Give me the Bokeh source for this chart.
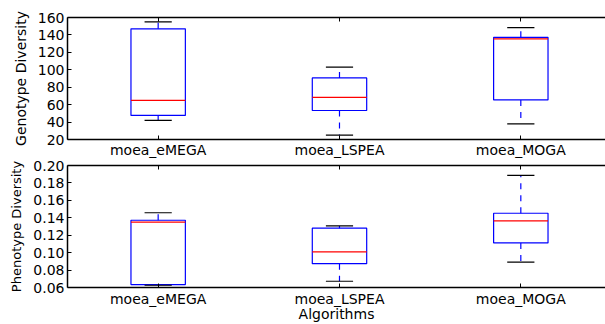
from bokeh.plotting import figure
from bokeh.layouts import column
from bokeh.models import FixedTicker, LinearAxis, PrintfTickFormatter, Range1d, ColumnDataSource
from bokeh.embed import file_html
from bokeh.resources import INLINE

categories = ["moea_eMEGA", "moea_LSPEA", "moea_MOGA"]

geno_low = [42, 25, 38]
geno_q1 = [47.6, 53.3, 65.4]
geno_med = [65, 68.4, 135.4]
geno_q3 = [147, 90.7, 137.3]
geno_high = [155, 103, 148.3]
geno_ticks = [20, 40, 60, 80, 100, 120, 140, 160]

pheno_low = [0.0626, 0.0672, 0.0891]
pheno_q1 = [0.0634, 0.0873, 0.1111]
pheno_med = [0.135, 0.1009, 0.1364]
pheno_q3 = [0.1372, 0.1281, 0.1452]
pheno_high = [0.1458, 0.1307, 0.1887]
pheno_ticks = [0.06, 0.08, 0.10, 0.12, 0.14, 0.16, 0.18, 0.20]

FONT = "DejaVu Sans"
FS = "14px"
BOX_HALF = 0.15
CAP_HALF = 0.075
positions = [i + 1 for i in range(len(categories))]
cat_labels = {x: c for x, c in zip(positions, categories)}


def style_axis(ax, show_labels=True):
    ax.axis_line_color = "black"
    ax.axis_line_width = 1.5
    ax.major_tick_in = 4
    ax.major_tick_out = 0
    ax.minor_tick_in = 0
    ax.minor_tick_out = 0
    ax.major_tick_line_color = "black"
    ax.major_label_text_font = FONT
    ax.major_label_text_font_size = FS
    ax.major_label_text_color = "black"
    ax.axis_label_text_font = FONT
    ax.axis_label_text_font_size = FS
    ax.axis_label_text_font_style = "normal"
    ax.axis_label_text_color = "black"
    if not show_labels:
        ax.major_label_text_font_size = "1px"
        ax.major_label_text_color = None
        ax.major_label_standoff = 0


def make_panel(lows, q1s, meds, q3s, highs, yticks, ylabel, label_size, fmt,
               height, btop, bbottom):
    p = figure(width=605, height=height, output_backend="svg", toolbar_location=None,
               x_range=Range1d(0.5, 3.467), y_range=Range1d(yticks[0], yticks[-1]),
               min_border_left=67, min_border_right=0,
               min_border_top=btop, min_border_bottom=bbottom)
    p.outline_line_color = None
    p.xgrid.visible = False
    p.ygrid.visible = False
    p.background_fill_color = "white"
    p.border_fill_color = "white"

    src = ColumnDataSource(dict(
        x=positions,
        left=[x - BOX_HALF for x in positions], right=[x + BOX_HALF for x in positions],
        cl=[x - CAP_HALF for x in positions], cr=[x + CAP_HALF for x in positions],
        low=lows, q1=q1s, med=meds, q3=q3s, high=highs))

    p.quad(left="left", right="right", bottom="q1", top="q3", source=src,
           fill_color=None, line_color="#0000ff", line_width=1.2)
    p.segment(x0="x", x1="x", y0="q1", y1="low", source=src,
              line_color="#0000ff", line_width=1.2, line_dash="6 6")
    p.segment(x0="x", x1="x", y0="q3", y1="high", source=src,
              line_color="#0000ff", line_width=1.2, line_dash="6 6")
    p.segment(x0="cl", x1="cr", y0="low", y1="low", source=src,
              line_color="black", line_width=1.2)
    p.segment(x0="cl", x1="cr", y0="high", y1="high", source=src,
              line_color="black", line_width=1.2)
    p.segment(x0="left", x1="right", y0="med", y1="med", source=src,
              line_color="#ff0000", line_width=1.2)

    ya = p.left[0]
    style_axis(ya)
    ya.ticker = FixedTicker(ticks=yticks)
    ya.formatter = PrintfTickFormatter(format=fmt)
    ya.major_label_standoff = 3
    ya.axis_label = ylabel
    ya.axis_label_text_font_size = label_size
    ya.axis_label_standoff = 6

    xa = p.below[0]
    style_axis(xa)
    xa.ticker = FixedTicker(ticks=positions)
    xa.major_label_overrides = cat_labels

    top = LinearAxis(ticker=FixedTicker(ticks=positions))
    style_axis(top, show_labels=False)
    p.add_layout(top, "above")
    return p


# top panel: frame spans y 17..140, category labels below it
p1 = make_panel(geno_low, geno_q1, geno_med, geno_q3, geno_high, geno_ticks,
                "Genotype Diversity", "14px", "%d", 160, 17, 20)
p1.below[0].major_label_standoff = 2

# bottom panel: frame spans y 165..288
p2 = make_panel(pheno_low, pheno_q1, pheno_med, pheno_q3, pheno_high, pheno_ticks,
                "Phenotype Diversity", "13px", "%.2f", 164, 5, 36)
xa2 = p2.below[0]
xa2.major_label_standoff = 3
xa2.axis_label = "Algorithms"
xa2.axis_label_standoff = -4

layout = column(p1, p2, spacing=0)
open("out.html", "w").write(file_html(layout, INLINE))
